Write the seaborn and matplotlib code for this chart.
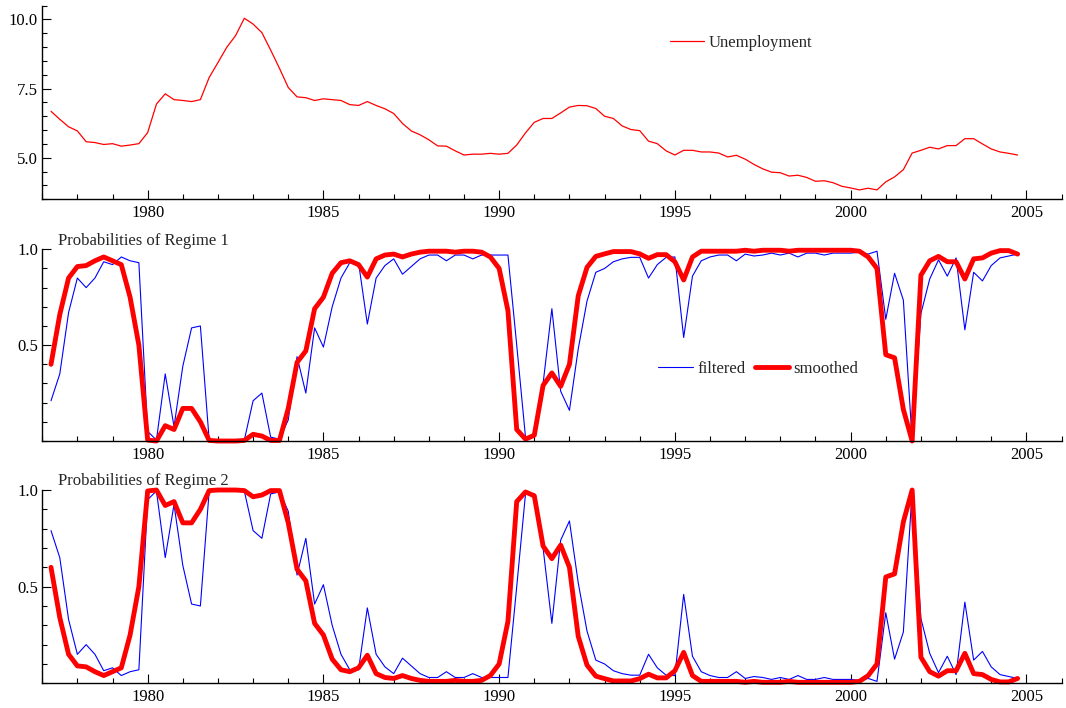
import numpy as np
import matplotlib
matplotlib.use("Agg")
import matplotlib.pyplot as plt
import seaborn as sns
from matplotlib.ticker import MultipleLocator, FixedLocator

# quarterly data, 1977(2) - 2004(4)
start_year = 1977.25
n_obs = 111

unemployment = [
    6.68, 6.39, 6.12,
    5.97, 5.58, 5.55, 5.48,
    5.51, 5.42, 5.46, 5.51,
    5.91, 6.94, 7.31, 7.10,
    7.07, 7.03, 7.10, 7.90,
    8.44, 8.99, 9.41, 10.04,
    9.83, 9.52, 8.89, 8.23,
    7.54, 7.20, 7.17, 7.07,
    7.13, 7.10, 7.07, 6.92,
    6.89, 7.03, 6.89, 6.77,
    6.60, 6.24, 5.97, 5.83,
    5.65, 5.43, 5.42, 5.25,
    5.10, 5.13, 5.13, 5.16,
    5.13, 5.16, 5.46, 5.90,
    6.28, 6.42, 6.42, 6.62,
    6.83, 6.89, 6.88, 6.78,
    6.50, 6.42, 6.15, 6.02,
    5.98, 5.60, 5.51, 5.25,
    5.10, 5.27, 5.27, 5.21,
    5.21, 5.17, 5.03, 5.09,
    4.95, 4.76, 4.60, 4.48,
    4.46, 4.34, 4.37, 4.29,
    4.15, 4.17, 4.10, 3.97,
    3.91, 3.84, 3.90, 3.84,
    4.13, 4.31, 4.57, 5.17,
    5.27, 5.38, 5.32, 5.44,
    5.44, 5.69, 5.69, 5.50,
    5.32, 5.21, 5.16, 5.10,
]

filtered_1 = [
    0.21, 0.35, 0.67,
    0.85, 0.80, 0.85, 0.935,
    0.92, 0.96, 0.94, 0.93,
    0.05, 0.005, 0.35, 0.075,
    0.39, 0.59, 0.60, 0.005,
    0.0, 0.0, 0.0, 0.005,
    0.21, 0.25, 0.02, 0.01,
    0.11, 0.44, 0.25, 0.59,
    0.49, 0.70, 0.85, 0.93,
    0.93, 0.61, 0.85, 0.915,
    0.95, 0.87, 0.91, 0.95,
    0.97, 0.97, 0.94, 0.97,
    0.97, 0.95, 0.97, 0.97,
    0.97, 0.97, 0.50, 0.02,
    0.02, 0.30, 0.69, 0.26,
    0.16, 0.48, 0.73, 0.88,
    0.90, 0.935, 0.95, 0.958,
    0.958, 0.85, 0.92, 0.958,
    0.96, 0.54, 0.86, 0.94,
    0.96, 0.97, 0.97, 0.94,
    0.975, 0.965, 0.97, 0.98,
    0.97, 0.98, 0.96, 0.98,
    0.98, 0.97, 0.98, 0.98,
    0.98, 0.985, 0.975, 0.99,
    0.635, 0.875, 0.735, 0.0,
    0.665, 0.845, 0.945, 0.86,
    0.955, 0.58, 0.88, 0.835,
    0.915, 0.955, 0.965, 0.975,
]

smoothed_1 = [
    0.40, 0.66, 0.85,
    0.91, 0.915, 0.94, 0.96,
    0.94, 0.92, 0.75, 0.50,
    0.005, 0.0, 0.08, 0.06,
    0.17, 0.17, 0.10, 0.003,
    0.0, 0.0, 0.0, 0.003,
    0.035, 0.026, 0.003, 0.003,
    0.17, 0.41, 0.47, 0.69,
    0.75, 0.875, 0.93, 0.94,
    0.92, 0.855, 0.95, 0.97,
    0.975, 0.96, 0.975, 0.985,
    0.99, 0.99, 0.99, 0.985,
    0.99, 0.99, 0.985, 0.96,
    0.90, 0.68, 0.06, 0.01,
    0.03, 0.29, 0.355, 0.285,
    0.40, 0.757, 0.906, 0.963,
    0.976, 0.988, 0.988, 0.988,
    0.976, 0.953, 0.972, 0.972,
    0.935, 0.84, 0.96, 0.99,
    0.99, 0.99, 0.99, 0.99,
    0.995, 0.99, 0.995, 0.995,
    0.995, 0.99, 0.995, 0.995,
    0.995, 0.995, 0.995, 0.995,
    0.995, 0.99, 0.96, 0.90,
    0.45, 0.434, 0.165, 0.0,
    0.865, 0.94, 0.963, 0.935,
    0.935, 0.845, 0.95, 0.955,
    0.98, 0.993, 0.993, 0.975,
]

filtered_2 = [
    0.79, 0.65, 0.33,
    0.15, 0.20, 0.15, 0.065,
    0.08, 0.04, 0.06, 0.07,
    0.95, 0.995, 0.65, 0.925,
    0.61, 0.41, 0.40, 0.995,
    1.0, 1.0, 1.0, 0.995,
    0.79, 0.75, 0.98, 0.99,
    0.89, 0.56, 0.75, 0.41,
    0.51, 0.30, 0.15, 0.07,
    0.07, 0.39, 0.15, 0.085,
    0.05, 0.13, 0.09, 0.05,
    0.03, 0.03, 0.06, 0.03,
    0.03, 0.05, 0.03, 0.03,
    0.03, 0.03, 0.50, 0.98,
    0.98, 0.70, 0.31, 0.74,
    0.84, 0.52, 0.27, 0.12,
    0.10, 0.065, 0.05, 0.042,
    0.042, 0.15, 0.08, 0.042,
    0.04, 0.46, 0.14, 0.06,
    0.04, 0.03, 0.03, 0.06,
    0.025, 0.035, 0.03, 0.02,
    0.03, 0.02, 0.04, 0.02,
    0.02, 0.03, 0.02, 0.02,
    0.02, 0.015, 0.025, 0.01,
    0.365, 0.125, 0.265, 1.0,
    0.335, 0.155, 0.055, 0.14,
    0.045, 0.42, 0.12, 0.165,
    0.085, 0.045, 0.035, 0.025,
]

smoothed_2 = [
    0.60, 0.34, 0.15,
    0.09, 0.085, 0.06, 0.04,
    0.06, 0.08, 0.25, 0.50,
    0.995, 1.0, 0.92, 0.94,
    0.83, 0.83, 0.90, 0.997,
    1.0, 1.0, 1.0, 0.997,
    0.965, 0.974, 0.997, 0.997,
    0.83, 0.59, 0.53, 0.31,
    0.25, 0.125, 0.07, 0.06,
    0.08, 0.145, 0.05, 0.03,
    0.025, 0.04, 0.025, 0.015,
    0.01, 0.01, 0.01, 0.015,
    0.01, 0.01, 0.015, 0.04,
    0.10, 0.32, 0.94, 0.99,
    0.97, 0.71, 0.645, 0.715,
    0.60, 0.243, 0.094, 0.037,
    0.024, 0.012, 0.012, 0.012,
    0.024, 0.047, 0.028, 0.028,
    0.065, 0.16, 0.04, 0.01,
    0.01, 0.01, 0.01, 0.01,
    0.005, 0.01, 0.005, 0.005,
    0.005, 0.01, 0.005, 0.005,
    0.005, 0.005, 0.005, 0.005,
    0.005, 0.01, 0.04, 0.10,
    0.55, 0.566, 0.835, 1.0,
    0.135, 0.06, 0.037, 0.065,
    0.065, 0.155, 0.05, 0.045,
    0.02, 0.007, 0.007, 0.025,
]

dates = start_year + 0.25 * np.arange(n_obs)

sns.set_style("ticks")
plt.rcParams["font.family"] = ["Liberation Serif", "DejaVu Serif"]
plt.rcParams["font.size"] = 12

fig = plt.figure(figsize=(10.66, 7.08), dpi=100)
left, width = 0.0396, 0.9562
ax1 = fig.add_axes([left, 0.7185, width, 0.2737])
ax2 = fig.add_axes([left, 0.3771, width, 0.2708])
ax3 = fig.add_axes([left, 0.0349, width, 0.2730])

# panel 1: unemployment
sns.lineplot(x=dates, y=unemployment, ax=ax1, color="red", linewidth=0.9,
             label="Unemployment")
ax1.set_ylim(3.5, 10.5)
ax1.yaxis.set_major_locator(FixedLocator([5.0, 7.5, 10.0]))
ax1.yaxis.set_minor_locator(MultipleLocator(0.5))
ax1.set_yticklabels(["5.0", "7.5", "10.0"])
ax1.legend(loc="center left", bbox_to_anchor=(0.6156, 0.808), frameon=False,
           handlelength=2.06, handletextpad=0.28, borderpad=0, borderaxespad=0)

# panel 2 and 3: regime probabilities
for ax, filt, smooth, title in [(ax2, filtered_1, smoothed_1, "Probabilities of Regime 1"),
                                (ax3, filtered_2, smoothed_2, "Probabilities of Regime 2")]:
    show_leg = ax is ax2
    sns.lineplot(x=dates, y=filt, ax=ax, color="blue", linewidth=0.8,
                 label="filtered" if show_leg else None, legend=show_leg)
    sns.lineplot(x=dates, y=smooth, ax=ax, color="red", linewidth=3.5,
                 label="smoothed" if show_leg else None, legend=show_leg)
    ax.set_ylim(0, 1.0)
    ax.yaxis.set_major_locator(FixedLocator([0.5, 1.0]))
    ax.yaxis.set_minor_locator(MultipleLocator(0.1))
    ax.set_yticklabels(["0.5", "1.0"])
    ax.text(0.0158, 1.045, title, transform=ax.transAxes, ha="left", va="center",
            fontsize=12)
    for line in ax.lines:
        line.set_clip_on(False)

ax2.legend(loc="center left", bbox_to_anchor=(0.6045, 0.374), frameon=False, ncol=2,
           handlelength=2.06, handletextpad=0.28, columnspacing=0.54,
           borderpad=0, borderaxespad=0)

for ax in [ax1, ax2, ax3]:
    ax.set_xlim(1977, 2006)
    ax.xaxis.set_major_locator(MultipleLocator(5))
    ax.xaxis.set_minor_locator(MultipleLocator(1))
    ax.set_xlabel("")
    ax.set_ylabel("")
    sns.despine(ax=ax)
    for side in ["left", "bottom"]:
        ax.spines[side].set_linewidth(1.0)
        ax.spines[side].set_color("black")
    ax.tick_params(which="major", direction="in", length=6.5, width=0.8,
                   colors="black", labelsize=12)
    ax.tick_params(which="minor", direction="in", length=3.4, width=0.8,
                   colors="black")
    ax.tick_params(axis="y", which="major", pad=3)
    ax.tick_params(axis="x", which="major", pad=4)
    ax.set_facecolor("white")

fig.savefig("out.png", dpi=100, facecolor="white")
